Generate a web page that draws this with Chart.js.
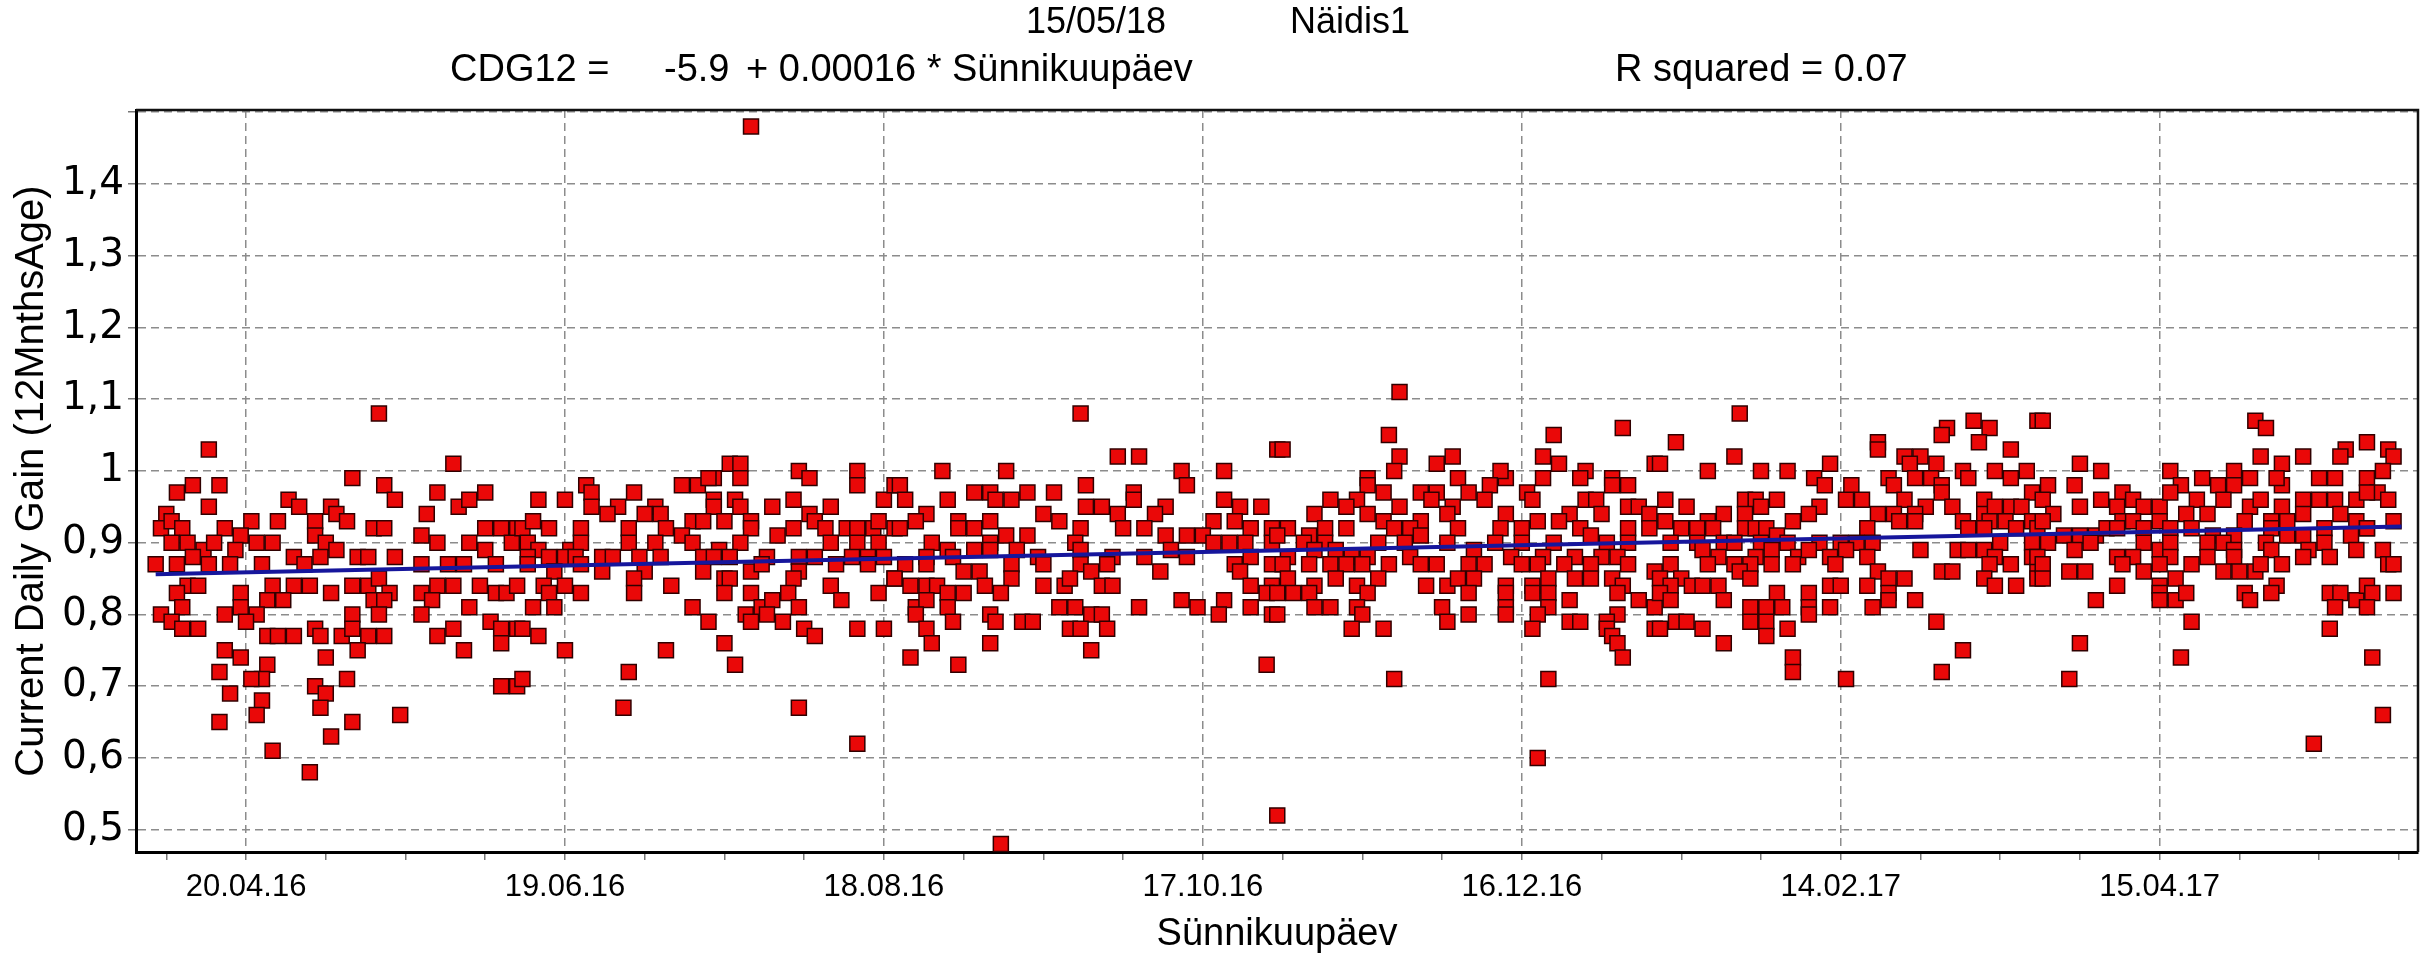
<!DOCTYPE html>
<html>
<head>
<meta charset="utf-8">
<script src="https://cdn.jsdelivr.net/npm/chart.js@4.4.1/dist/chart.umd.min.js"></script>
<style>
  html, body { margin: 0; padding: 0; background: #fff; }
  canvas { display: block; }
</style>
</head>
<body>
<canvas id="chart" width="2435" height="955"></canvas>
<script>
// x = days since 20.04.16 (birth date), y = current daily gain at 12 months
const bornMarJun16 = [
  [25,1.08],[-7,1.03],[39,1.01],[20,0.99],[-13,0.97],[-10,0.98],[-5,0.98],[-7,0.95],[26,0.98],[28,0.96],
  [36,0.97],[34,0.94],[40,0.95],[42,0.96],[45,0.97],[8,0.96],[10,0.95],[16,0.95],[17,0.94],[19,0.93],
  [-15,0.94],[-16,0.92],[-14,0.93],[-12,0.92],[1,0.93],[6,0.93],[-4,0.92],[-1,0.91],[13,0.93],[13,0.91],
  [24,0.92],[26,0.92],[45,0.92],[48,0.92],[51,0.92],[33,0.91],[-14,0.90],[-11,0.90],[-8,0.89],[-6,0.90],
  [-2,0.89],[2,0.90],[5,0.90],[15,0.90],[17,0.89],[36,0.90],[42,0.90],[45,0.89],[50,0.90],[-17,0.87],
  [-13,0.87],[-10,0.88],[-7,0.87],[-3,0.87],[3,0.87],[9,0.88],[11,0.87],[14,0.88],[21,0.88],[23,0.88],
  [28,0.88],[33,0.87],[38,0.87],[41,0.87],[47,0.87],[-11,0.84],[-9,0.84],[-13,0.83],[5,0.84],[9,0.84],
  [12,0.84],[16,0.83],[20,0.84],[23,0.84],[25,0.85],[27,0.83],[33,0.83],[36,0.84],[39,0.84],[44,0.84],
  [47,0.83],[49,0.83],[51,0.84],[-1,0.83],[4,0.82],[7,0.82],[-12,0.81],[35,0.82],[42,0.81],[24,0.82],
  [26,0.82],[-16,0.80],[-4,0.80],[-1,0.81],[2,0.80],[20,0.80],[25,0.80],[33,0.80],[-14,0.79],[0,0.79],
  [46,0.79],[-12,0.78],[-9,0.78],[4,0.77],[6,0.77],[9,0.77],[13,0.78],[14,0.77],[18,0.77],[20,0.78],
  [23,0.77],[26,0.77],[36,0.77],[39,0.78],[48,0.78],[48,0.76],[51,0.78],[-4,0.75],[-1,0.74],[21,0.75],
  [41,0.75],[15,0.74],[4,0.73],[-5,0.72],[3,0.71],[1,0.71],[19,0.71],[13,0.70],[48,0.70],[51,0.70],
  [-3,0.69],[15,0.69],[3,0.68],[14,0.67],[2,0.66],[29,0.66],[-5,0.65],[20,0.65],[16,0.63],[5,0.61],
  [12,0.58]
];
const bornJunAug16 = [
  [91,1.01],[93,1.01],[93,0.99],[88,0.99],[104,1.00],[106,0.99],[115,1.00],[115,0.98],[82,0.98],[85,0.98],
  [87,0.99],[64,0.98],[65,0.97],[55,0.96],[60,0.96],[73,0.97],[70,0.95],[65,0.95],[68,0.94],[77,0.95],
  [75,0.94],[78,0.94],[99,0.95],[103,0.96],[110,0.95],[120,0.96],[122,0.98],[106,0.94],[107,0.93],[88,0.96],
  [88,0.95],[92,0.96],[93,0.95],[84,0.93],[86,0.93],[90,0.93],[95,0.93],[52,0.92],[54,0.93],[57,0.92],
  [63,0.92],[72,0.92],[79,0.92],[82,0.91],[95,0.92],[100,0.91],[103,0.92],[109,0.92],[113,0.92],[115,0.92],
  [118,0.92],[119,0.93],[122,0.92],[53,0.90],[55,0.89],[61,0.89],[63,0.90],[72,0.90],[77,0.90],[84,0.90],
  [89,0.89],[93,0.90],[110,0.90],[115,0.90],[119,0.90],[53,0.88],[57,0.88],[60,0.88],[62,0.88],[67,0.88],
  [69,0.88],[74,0.88],[78,0.88],[86,0.88],[88,0.88],[91,0.88],[98,0.88],[104,0.88],[107,0.88],[114,0.88],
  [117,0.88],[120,0.88],[53,0.87],[58,0.86],[63,0.87],[67,0.86],[75,0.86],[86,0.86],[95,0.86],[97,0.87],
  [104,0.86],[111,0.87],[117,0.87],[56,0.84],[60,0.84],[73,0.85],[90,0.85],[91,0.85],[103,0.85],[110,0.84],
  [122,0.85],[57,0.83],[63,0.83],[73,0.83],[80,0.84],[90,0.83],[95,0.83],[102,0.83],[112,0.82],[119,0.83],
  [54,0.81],[58,0.81],[84,0.81],[97,0.81],[99,0.82],[104,0.81],[94,0.80],[98,0.80],[101,0.79],[87,0.79],
  [95,0.79],[52,0.78],[55,0.77],[105,0.78],[107,0.77],[115,0.78],[120,0.78],[60,0.75],[79,0.75],[90,0.76],
  [92,0.73],[72,0.72],[52,0.71],[71,0.67],[104,0.67],[115,0.62],[95,1.48],[142,0.48]
];
const bornAugOct16 = [
  [157,1.08],[164,1.02],[168,1.02],[194,1.03],[131,1.00],[143,1.00],[176,1.00],[177,0.98],[184,1.00],[123,0.98],
  [124,0.96],[132,0.96],[137,0.97],[140,0.97],[141,0.96],[144,0.96],[147,0.97],[152,0.97],[158,0.98],[158,0.95],
  [161,0.95],[167,0.97],[167,0.96],[173,0.95],[184,0.96],[187,0.95],[191,0.95],[128,0.94],[126,0.93],[134,0.93],
  [140,0.93],[150,0.94],[153,0.93],[164,0.94],[171,0.94],[182,0.93],[186,0.93],[123,0.92],[134,0.92],[137,0.92],
  [143,0.91],[147,0.91],[157,0.92],[165,0.92],[169,0.92],[173,0.91],[177,0.91],[180,0.91],[189,0.92],[193,0.92],
  [193,0.90],[129,0.90],[132,0.89],[140,0.90],[145,0.89],[156,0.90],[182,0.90],[185,0.90],[188,0.90],[124,0.87],
  [128,0.88],[133,0.88],[137,0.89],[140,0.89],[149,0.88],[150,0.87],[157,0.89],[163,0.88],[169,0.88],[174,0.89],
  [177,0.88],[189,0.88],[193,0.87],[122,0.85],[128,0.87],[135,0.86],[138,0.86],[144,0.87],[144,0.85],[157,0.87],
  [159,0.86],[162,0.87],[172,0.86],[186,0.87],[187,0.86],[125,0.84],[128,0.84],[130,0.84],[132,0.83],[135,0.83],
  [139,0.84],[142,0.83],[150,0.84],[154,0.84],[155,0.85],[161,0.84],[163,0.84],[189,0.84],[193,0.84],[192,0.83],
  [126,0.81],[128,0.82],[132,0.81],[153,0.81],[156,0.81],[168,0.81],[176,0.82],[179,0.81],[184,0.82],[189,0.81],
  [193,0.80],[126,0.80],[133,0.79],[140,0.80],[141,0.79],[146,0.79],[148,0.79],[159,0.80],[161,0.80],[183,0.80],
  [128,0.78],[155,0.78],[157,0.78],[162,0.78],[129,0.76],[140,0.76],[159,0.75],[125,0.74],[134,0.73],[192,0.73],
  [194,0.52]
];
const bornOct16Jan17 = [
  [217,1.11],[215,1.05],[246,1.05],[259,1.06],[195,1.03],[217,1.02],[216,1.00],[224,1.01],[227,1.02],[244,1.02],
  [247,1.01],[252,1.00],[265,1.01],[211,0.99],[237,0.99],[236,1.00],[228,0.99],[244,0.99],[257,0.99],[260,0.98],
  [234,0.98],[251,0.99],[211,0.98],[214,0.97],[221,0.97],[224,0.97],[230,0.97],[241,0.97],[257,0.98],[204,0.96],
  [209,0.96],[207,0.95],[217,0.95],[223,0.96],[227,0.95],[233,0.96],[242,0.96],[252,0.96],[254,0.96],[260,0.95],
  [262,0.95],[201,0.94],[211,0.94],[214,0.93],[221,0.93],[226,0.94],[237,0.94],[249,0.94],[255,0.94],[264,0.94],
  [196,0.92],[200,0.91],[203,0.92],[207,0.92],[216,0.92],[219,0.92],[221,0.91],[228,0.92],[236,0.92],[240,0.92],
  [243,0.93],[247,0.93],[251,0.92],[253,0.91],[260,0.92],[264,0.92],[194,0.91],[199,0.90],[203,0.90],[213,0.90],
  [218,0.90],[226,0.90],[235,0.90],[240,0.90],[246,0.90],[256,0.90],[260,0.90],[196,0.88],[201,0.89],[205,0.89],
  [208,0.88],[211,0.88],[219,0.88],[231,0.89],[238,0.88],[244,0.88],[250,0.88],[255,0.88],[258,0.88],[195,0.87],
  [200,0.87],[204,0.87],[207,0.87],[210,0.87],[215,0.87],[221,0.87],[224,0.87],[230,0.87],[233,0.87],[240,0.87],
  [243,0.87],[248,0.87],[253,0.87],[260,0.87],[265,0.86],[196,0.85],[201,0.84],[205,0.85],[209,0.84],[213,0.85],
  [222,0.84],[226,0.84],[228,0.85],[231,0.85],[237,0.84],[242,0.84],[245,0.85],[250,0.85],[253,0.85],[257,0.85],
  [259,0.84],[194,0.83],[197,0.83],[200,0.83],[211,0.83],[230,0.83],[237,0.83],[242,0.83],[245,0.83],[249,0.82],
  [258,0.83],[262,0.82],[201,0.81],[204,0.81],[209,0.81],[225,0.81],[237,0.81],[245,0.81],[265,0.81],[194,0.80],
  [210,0.80],[230,0.80],[237,0.80],[243,0.80],[258,0.80],[226,0.79],[249,0.79],[251,0.79],[256,0.79],[208,0.78],
  [214,0.78],[242,0.78],[256,0.78],[265,0.78],[257,0.77],[258,0.76],[259,0.74],[216,0.71],[245,0.71],[243,0.60]
];
const bornJanMar17 = [
  [281,1.08],[269,1.04],[307,1.04],[307,1.03],[320,1.06],[319,1.05],[325,1.07],[328,1.06],[326,1.04],[332,1.03],
  [337,1.07],[266,1.01],[280,1.02],[275,1.00],[285,1.00],[290,1.00],[298,1.01],[295,0.99],[297,0.98],[312,1.02],
  [315,1.02],[313,1.01],[318,1.01],[314,0.99],[317,0.99],[309,0.99],[310,0.98],[319,0.98],[323,1.00],[324,0.99],
  [329,1.00],[332,0.99],[335,1.00],[302,0.98],[319,0.97],[267,0.96],[271,0.95],[288,0.96],[296,0.95],[301,0.96],
  [304,0.96],[312,0.96],[316,0.95],[321,0.95],[327,0.96],[336,0.97],[282,0.96],[284,0.96],[285,0.95],[278,0.94],
  [282,0.94],[294,0.94],[307,0.94],[310,0.94],[314,0.94],[327,0.94],[329,0.95],[332,0.95],[334,0.95],[267,0.93],
  [275,0.93],[291,0.93],[311,0.93],[314,0.93],[323,0.93],[328,0.93],[331,0.93],[336,0.93],[270,0.92],[273,0.92],
  [276,0.92],[282,0.92],[284,0.92],[286,0.92],[288,0.91],[305,0.92],[324,0.92],[327,0.92],[333,0.92],[337,0.92],
  [268,0.90],[273,0.90],[278,0.90],[280,0.90],[285,0.90],[290,0.90],[296,0.90],[300,0.90],[303,0.90],[306,0.90],
  [336,0.90],[315,0.89],[322,0.89],[324,0.89],[327,0.89],[330,0.90],[274,0.89],[277,0.88],[284,0.88],[287,0.89],
  [292,0.88],[294,0.89],[298,0.88],[305,0.88],[301,0.89],[329,0.88],[336,0.88],[268,0.87],[275,0.87],[280,0.87],
  [283,0.87],[287,0.87],[291,0.87],[299,0.87],[307,0.86],[319,0.86],[321,0.86],[328,0.87],[332,0.87],[337,0.86],
  [266,0.85],[270,0.85],[281,0.86],[283,0.85],[309,0.85],[312,0.85],[327,0.85],[268,0.84],[272,0.84],[274,0.84],
  [277,0.84],[298,0.84],[300,0.84],[305,0.84],[329,0.84],[333,0.84],[337,0.85],[266,0.83],[268,0.82],[278,0.82],
  [288,0.83],[294,0.83],[309,0.83],[314,0.82],[283,0.81],[286,0.81],[289,0.81],[294,0.81],[298,0.81],[306,0.81],
  [309,0.82],[294,0.80],[269,0.79],[271,0.79],[283,0.79],[286,0.79],[318,0.79],[266,0.78],[274,0.78],[290,0.78],
  [286,0.77],[278,0.76],[323,0.75],[291,0.74],[291,0.72],[319,0.72],[301,0.71]
];
const bornMarMay17 = [
  [338,1.07],[378,1.07],[380,1.06],[399,1.04],[403,1.03],[404,1.02],[395,1.03],[394,1.02],[379,1.02],[387,1.02],
  [383,1.01],[345,1.01],[349,1.00],[362,1.00],[383,0.98],[402,1.00],[374,1.00],[368,0.99],[364,0.98],[377,0.99],
  [382,0.99],[390,0.99],[393,0.99],[399,0.99],[371,0.98],[374,0.98],[339,0.98],[344,0.98],[372,0.96],[401,0.97],
  [338,0.96],[340,0.94],[345,0.95],[349,0.96],[353,0.97],[352,0.95],[355,0.96],[357,0.95],[360,0.95],[362,0.97],
  [367,0.96],[369,0.94],[377,0.95],[379,0.96],[383,0.95],[387,0.96],[390,0.96],[393,0.96],[397,0.96],[399,0.97],
  [403,0.96],[404,0.93],[338,0.93],[353,0.93],[355,0.93],[360,0.93],[365,0.94],[376,0.93],[381,0.93],[384,0.93],
  [387,0.94],[391,0.92],[394,0.94],[397,0.93],[399,0.92],[342,0.91],[345,0.91],[348,0.91],[350,0.92],[352,0.92],
  [357,0.92],[362,0.92],[366,0.92],[370,0.91],[374,0.91],[381,0.92],[384,0.91],[387,0.91],[396,0.91],[399,0.92],
  [339,0.90],[344,0.89],[347,0.90],[357,0.90],[360,0.89],[362,0.90],[369,0.90],[372,0.90],[374,0.89],[380,0.90],
  [388,0.89],[391,0.90],[402,0.89],[337,0.88],[352,0.88],[355,0.88],[362,0.88],[369,0.88],[374,0.88],[381,0.89],
  [387,0.88],[392,0.88],[397,0.89],[338,0.87],[343,0.86],[346,0.86],[353,0.87],[357,0.86],[360,0.87],[366,0.87],
  [372,0.86],[375,0.86],[378,0.86],[379,0.87],[383,0.87],[403,0.87],[404,0.87],[338,0.85],[352,0.84],[360,0.84],
  [363,0.85],[382,0.84],[381,0.83],[360,0.83],[348,0.82],[360,0.82],[363,0.82],[365,0.83],[376,0.83],[377,0.82],
  [392,0.83],[394,0.83],[397,0.82],[399,0.84],[400,0.83],[404,0.83],[393,0.81],[399,0.81],[366,0.79],[392,0.78],
  [345,0.76],[364,0.74],[400,0.74],[343,0.71],[402,0.66],[389,0.62]
];

// fitted line CDG12 = -5.9 + 0.00016 * Sünnikuupäev, ends
const trendDays = [-17, 405.5];
const trendGain = [0.856, 0.9225];

// axes
const xMajorDays = [0, 60, 120, 180, 240, 300, 360];
const xTickLabels = ["20.04.16", "19.06.16", "18.08.16", "17.10.16", "16.12.16", "14.02.17", "15.04.17"];
const xMinorDays = [-15, 0, 15, 30, 45, 60, 75, 90, 105, 120, 135, 150, 165, 180, 195, 210,
  225, 240, 255, 270, 285, 300, 315, 330, 345, 360, 375, 390, 405];
const yTicks = [0.5, 0.6, 0.7, 0.8, 0.9, 1.0, 1.1, 1.2, 1.3, 1.4, 1.5];

const FONT = '"Liberation Sans", Arial, sans-serif';
const WIDE = '"DejaVu Sans", Verdana, sans-serif';
Chart.defaults.font.family = FONT;
Chart.defaults.color = "#000";

const allCalves = [...bornMarJun16, ...bornJunAug16, ...bornAugOct16,
  ...bornOct16Jan17, ...bornJanMar17, ...bornMarMay17];

// header texts and plot frame
const headerPlugin = {
  id: "header",
  afterDraw(chart) {
    const ctx = chart.ctx;
    ctx.save();
    ctx.fillStyle = "#000";
    ctx.textBaseline = "middle";
    ctx.textAlign = "left";
    ctx.font = "36px " + FONT;
    ctx.fillText("15/05/18", 1026, 23);
    ctx.fillText("Näidis1", 1290, 23);
    ctx.font = "38px " + FONT;
    ctx.fillText("CDG12 =", 450, 71);
    ctx.fillText("-5.9", 664, 71);
    ctx.fillText("+ 0.00016 * Sünnikuupäev", 746, 71);
    ctx.fillText("R squared = 0.07", 1615, 71);

    const a = chart.chartArea;
    ctx.strokeStyle = "#111";
    ctx.lineWidth = 2.5;
    ctx.beginPath();
    ctx.moveTo(a.left, a.top);
    ctx.lineTo(a.right, a.top);
    ctx.lineTo(a.right, a.bottom);
    ctx.stroke();
    ctx.restore();
  }
};

const ctx = document.getElementById("chart").getContext("2d");
new Chart(ctx, {
  type: "scatter",
  data: {
    datasets: [
      {
        type: "line",
        data: trendDays.map((d, i) => ({ x: d, y: trendGain[i] })),
        borderColor: "#16169c",
        borderWidth: 4,
        pointRadius: 0,
        fill: false,
        order: 0
      },
      {
        data: allCalves.map(([d, g]) => ({ x: d, y: g })),
        pointStyle: "rect",
        pointRadius: 10.6,
        backgroundColor: "#ea0808",
        borderColor: "#300000",
        borderWidth: 1.5,
        order: 1
      }
    ]
  },
  options: {
    responsive: false,
    animation: false,
    devicePixelRatio: 1,
    layout: { padding: { top: 110, right: 17, left: 0, bottom: 0 } },
    plugins: { legend: { display: false }, tooltip: { enabled: false } },
    scales: {
      x: {
        type: "linear",
        min: -20.7,
        max: 408.6,
        afterBuildTicks: (scale) => { scale.ticks = xMinorDays.map(v => ({ value: v })); },
        afterFit: (scale) => { scale.height = 103; },
        ticks: {
          autoSkip: false,
          maxRotation: 0,
          padding: 9,
          font: { size: 31 },
          callback: (v) => {
            const i = xMajorDays.indexOf(v);
            return i >= 0 ? xTickLabels[i] : "";
          }
        },
        grid: {
          color: (c) => (c.tick && xMajorDays.includes(c.tick.value) ? "#8c8c8c" : "rgba(0,0,0,0)"),
          lineWidth: 1.5,
          tickColor: "#777",
          tickLength: 8,
          tickBorderDash: []
        },
        border: { display: true, color: "#000", width: 3, dash: [8, 5] },
        title: {
          display: true,
          text: "Sünnikuupäev",
          font: { size: 38 },
          padding: { top: 0, bottom: -2 }
        }
      },
      y: {
        type: "linear",
        min: 0.469,
        max: 1.503,
        afterBuildTicks: (scale) => { scale.ticks = yTicks.map(v => ({ value: v })); },
        afterFit: (scale) => { scale.width = 136; },
        ticks: {
          padding: 4,
          font: { size: 39, family: WIDE },
          callback: (v) => (v > 1.45 ? "" : String(Math.round(v * 10) / 10).replace(".", ","))
        },
        grid: {
          color: "#8c8c8c",
          lineWidth: 1.5,
          tickColor: "#777",
          tickLength: 8,
          tickBorderDash: []
        },
        border: { display: true, color: "#000", width: 3, dash: [8, 5] },
        title: {
          display: true,
          text: "Current Daily Gain (12MnthsAge)",
          font: { size: 40 },
          padding: { top: 8, bottom: 0 }
        }
      }
    }
  },
  plugins: [headerPlugin]
});
</script>
</body>
</html>
